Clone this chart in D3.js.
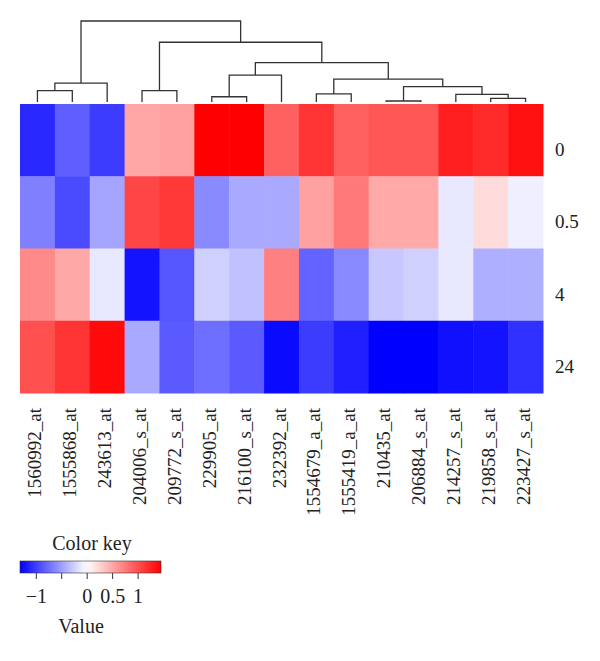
<!DOCTYPE html>
<html>
<head>
<meta charset="utf-8">
<script src="https://cdnjs.cloudflare.com/ajax/libs/d3/7.8.5/d3.min.js"></script>
<style>
html,body{margin:0;padding:0;background:#fff;}
svg{display:block;}
text{font-family:"Liberation Serif","DejaVu Serif",serif;fill:#222;}
</style>
</head>
<body>
<svg id="chart" width="600" height="661"></svg>
<script>
// ---- Data ----
const genes = ["1560992_at","1555868_at","243613_at","204006_s_at","209772_s_at","229905_at","216100_s_at","232392_at","1554679_a_at","1555419_a_at","210435_at","206884_s_at","214257_s_at","219858_s_at","223427_s_at"];
const timepoints = ["0","0.5","4","24"];
const values0   = [-1.10,-0.82,-1.00, 0.51, 0.54, 1.46, 1.46, 0.91, 1.16, 0.91, 0.97, 0.97, 1.28, 1.22, 1.37];
const values05  = [-0.65,-0.93,-0.46, 1.06, 1.14,-0.60,-0.44,-0.44, 0.54, 0.77, 0.49, 0.49,-0.12, 0.20,-0.08];
const values4   = [ 0.67, 0.50,-0.12,-1.21,-0.87,-0.24,-0.32, 0.73,-0.80,-0.61,-0.28,-0.24,-0.12,-0.41,-0.41];
const values24  = [ 1.00, 1.16, 1.40,-0.44,-0.85,-0.74,-0.85,-1.26,-1.00,-1.15,-1.31,-1.31,-1.23,-1.21,-1.06];
const seriesValues = [values0, values05, values4, values24];
// hclust-style merge list: negative = leaf (1-based display order), positive = earlier merge
const mergeA = [-11,-14,-6,-13,-9,-1,-4, 1, 6, 5, 3,11, 7, 9];
const mergeB = [-12,-15,-7,  2,-10,-2,-5, 4,-3, 8,-8,10,12,13];
const mergeHeight = [0.05,0.18,0.26,0.38,0.40,0.56,0.56,0.76,0.93,1.13,1.33,1.94,2.95,4.0];
const keyTicks = [-1,-0.5,0,0.5,1];
const keyTickLabels = ["\u22121","","0","0.5","1"];
const keyDomain = [-1.31, 1.46];

// ---- Layout ----
const svg = d3.select("#chart");
const x = d3.scaleBand().domain(genes).range([20, 543]);
const y = d3.scaleBand().domain(timepoints).range([104, 393]);
const color = d3.scaleLinear().domain([keyDomain[0], 0, keyDomain[1]]).range(["#0000ff","#ffffff","#ff0000"]).clamp(true);

// heatmap cells
const cells = [];
timepoints.forEach((t,i)=>genes.forEach((g,j)=>cells.push({t,g,v:seriesValues[i][j]})));
svg.append("g").selectAll("rect").data(cells).join("rect")
  .attr("x", d=>x(d.g)).attr("y", d=>y(d.t))
  .attr("width", x.bandwidth()+0.5).attr("height", y.bandwidth()+0.5)
  .attr("fill", d=>color(d.v));

// row labels
svg.append("g").selectAll("text").data(timepoints).join("text")
  .attr("x", 555).attr("y", d=>y(d)+y.bandwidth()/2+16)
  .attr("font-size", 19).text(d=>d);

// column labels
svg.append("g").selectAll("text").data(genes).join("text")
  .attr("transform", d=>`translate(${x(d)+x.bandwidth()/2+4},408) rotate(-90)`)
  .attr("text-anchor","end").attr("font-size", 19).text(d=>d);

// dendrogram
const hy = d3.scaleLinear().domain([0, 4.0]).range([102, 21]);
const nodes = [];
function pos(id){
  if (id < 0) { const g = genes[-id-1]; return {x: x(g)+x.bandwidth()/2, y: hy(0)}; }
  return nodes[id-1];
}
const dg = svg.append("g").attr("fill","none").attr("stroke","#333").attr("stroke-width",1.3);
mergeA.forEach((a,i)=>{
  const pa = pos(a), pb = pos(mergeB[i]);
  const yy = hy(mergeHeight[i]);
  nodes.push({x:(pa.x+pb.x)/2, y:yy});
  dg.append("path").attr("d", `M${pa.x},${pa.y}V${yy}H${pb.x}V${pb.y}`);
});

// color key
const kx = d3.scaleLinear().domain(keyDomain).range([20, 161]);
const grad = svg.append("defs").append("linearGradient").attr("id","kg");
d3.range(0,1.0001,0.05).forEach(f=>{
  const v = keyDomain[0] + f*(keyDomain[1]-keyDomain[0]);
  grad.append("stop").attr("offset", f).attr("stop-color", color(v));
});
svg.append("rect").attr("x", 20).attr("y", 561).attr("width", 141).attr("height", 12)
  .attr("fill","url(#kg)").attr("stroke","#333").attr("stroke-width",0.6);
const kAxis = d3.axisBottom(kx).tickValues(keyTicks).tickSize(6).tickFormat((d,i)=>keyTickLabels[i]);
const kg = svg.append("g").attr("transform","translate(0,573)").call(kAxis);
kg.select(".domain").remove();
kg.selectAll(".tick line").attr("stroke","#333");
kg.selectAll(".tick text").attr("font-size",20).attr("font-family","Liberation Serif, serif").attr("fill","#222").attr("y",16).attr("dy","0.71em");
svg.append("text").attr("x", 92).attr("y", 550).attr("text-anchor","middle").attr("font-size",20).text("Color key");
svg.append("text").attr("x", 81).attr("y", 633).attr("text-anchor","middle").attr("font-size",20).text("Value");
</script>
</body>
</html>
